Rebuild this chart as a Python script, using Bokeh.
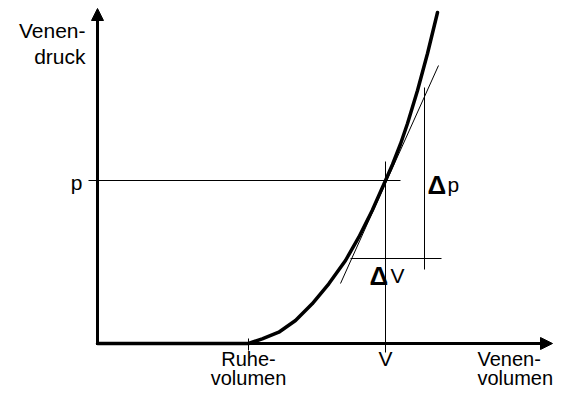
from bokeh.plotting import figure
from bokeh.models import Arrow, NormalHead
from bokeh.core.properties import value
from bokeh.embed import file_html
from bokeh.resources import INLINE

# ---- data (arbitrary units: volume on x, pressure on y) ----
ruhe_volumen = 15.1
v_volumen = 28.8
p_druck = 16.3
x_axis_end = 45.5
y_axis_end = 33.5

curve_x = [0.0, 15.1, 16.47, 18.13, 19.8, 21.47, 23.13, 24.8, 26.13, 27.47, 28.8, 29.5, 30.3, 31.0, 32.0, 33.0, 34.0]
curve_y = [0.0, 0.0, 0.47, 1.13, 2.3, 3.97, 5.97, 8.3, 10.63, 13.3, 16.3, 17.9, 19.95, 22.0, 25.3, 29.0, 33.1]

tangent_x = [24.3, 34.1]
tangent_y = [6.0, 27.8]

dv_line_x = [25.3, 34.4]
dv_line_y = 8.5
dp_line_x = 32.7
dp_line_y = [7.4, 25.6]

y_title = ["Venen-", "druck"]
x_title = ["Venen-", "volumen"]
ruhe_label = ["Ruhe-", "volumen"]
v_label = "V"
p_label = "p"

FONT = value("Liberation Sans")
DY = 0.8  # baseline correction for text rendering

p = figure(width=557, height=387, x_range=(-9.7, 46.0), y_range=(-4.4, 34.3),
           output_backend="svg", toolbar_location=None, min_border=0,
           x_axis_type=None, y_axis_type=None)
p.xgrid.visible = False
p.ygrid.visible = False
p.outline_line_color = None
p.background_fill_color = "white"
p.border_fill_color = "white"

# thin construction lines
p.line([-0.9, 30.3], [p_druck, p_druck], line_color="black", line_width=1)
p.line([v_volumen, v_volumen], [-0.9, 18.2], line_color="black", line_width=1)
p.line([ruhe_volumen, ruhe_volumen], [-0.7, 0.5], line_color="black", line_width=1)
p.line(tangent_x, tangent_y, line_color="black", line_width=1)
p.line(dv_line_x, [dv_line_y, dv_line_y], line_color="black", line_width=1)
p.line([dp_line_x, dp_line_x], dp_line_y, line_color="black", line_width=1)

# axes as arrows
p.add_layout(Arrow(end=NormalHead(size=12, fill_color="black", line_color="black", line_width=1),
                   x_start=0, y_start=-0.15, x_end=0, y_end=y_axis_end,
                   line_width=3, line_color="black"))
p.add_layout(Arrow(end=NormalHead(size=12, fill_color="black", line_color="black", line_width=1),
                   x_start=-0.15, y_start=0, x_end=x_axis_end, y_end=0,
                   line_width=3, line_color="black"))

# curve
p.line(curve_x, curve_y, line_color="black", line_width=3.5, line_join="round", line_cap="round")

# texts
fs = "21px"
fs_small = "20px"
p.text([-1.2, -1.2], [30.5 + DY, 27.9 + DY], text=y_title, text_align="right", text_baseline="alphabetic",
       text_font=FONT, text_font_size=fs, text_color="black")
p.text([38.0, 38.0], [-2.3 + DY, -4.2 + DY], text=x_title, text_align="left", text_baseline="alphabetic",
       text_font=FONT, text_font_size=fs_small, text_color="black")
p.text([ruhe_volumen, ruhe_volumen], [-2.3 + DY, -4.2 + DY], text=ruhe_label, text_align="center",
       text_baseline="alphabetic", text_font=FONT, text_font_size=fs_small, text_color="black")
p.text([v_volumen], [-2.3 + DY], text=[v_label], text_align="center", text_baseline="alphabetic",
       text_font=FONT, text_font_size=fs, text_color="black")
p.text([-1.5], [p_druck - 1.0 + DY], text=[p_label], text_align="right", text_baseline="alphabetic",
       text_font=FONT, text_font_size=fs, text_color="black")

# delta labels
p.text([33.0, 27.2], [15.1 + DY, 6.0 + DY], text=["Δ", "Δ"], text_align="left", text_baseline="alphabetic",
       text_font=FONT, text_font_size="26px", text_font_style="bold", text_color="black")
p.text([35.0, 29.3], [15.1 + DY, 6.0 + DY], text=["p", "V"], text_align="left", text_baseline="alphabetic",
       text_font=FONT, text_font_size=fs, text_color="black")

open("out.html", "w").write(file_html(p, INLINE))
